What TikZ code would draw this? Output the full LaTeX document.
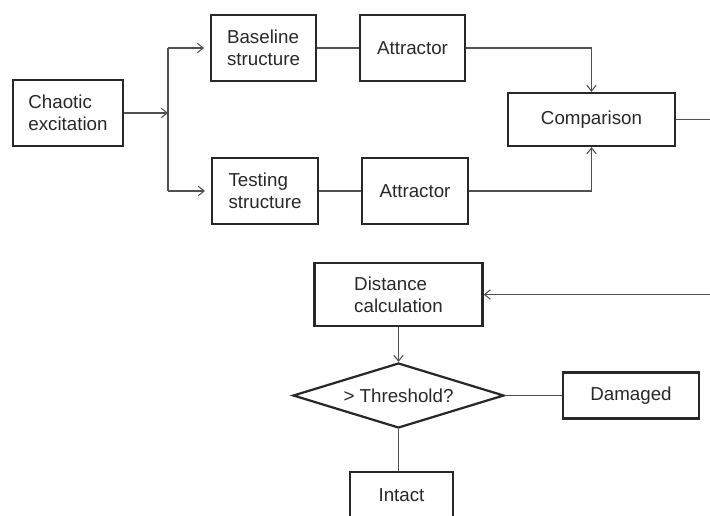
\documentclass[tikz,border=0pt]{standalone}
\usepackage{fontspec}
\setmainfont{Liberation Sans}
\usetikzlibrary{shapes.geometric,arrows.meta}
\definecolor{inkgray}{RGB}{40,40,40}
\definecolor{linegray}{RGB}{80,80,80}

\begin{document}
\begin{tikzpicture}[x=0.03cm,y=-0.03cm,
  box/.style={draw=inkgray,line width=1.9pt,inner sep=0pt,align=left,text=inkgray,
    font=\fontsize{16}{19}\selectfont},
  link/.style={draw=linegray,line width=0.9pt},
  arrow/.style={link,-{Straight Barb[length=5pt,width=8pt]}}]
  \useasboundingbox (0,0) rectangle (710,516);

  % upper part: two branches into the comparison
  \begin{scope}[box/.append style={minimum height=1.98cm}]
  \node[box,minimum width=3.3cm]  (chaos) at (68,113)    {Chaotic\\excitation};
  \node[box,minimum width=3.15cm] (base)  at (263.5,48)  {Baseline\\structure};
  \node[box,minimum width=3.18cm] (test)  at (265,191)   {Testing\\structure};
  \node[box,minimum width=3.15cm] (att1)  at (412.5,48)  {Attractor};
  \node[box,minimum width=3.18cm] (att2)  at (415,191)   {Attractor};
  \end{scope}
  \node[box,minimum width=5.01cm,minimum height=1.59cm] (comp) at (591.5,119.5) {Comparison};

  \coordinate (split) at (168,113);
  \coordinate (edge)  at (716,0);

  \draw[arrow] (chaos.east) -- (split);
  \draw[link]  (split |- base.west) -- (split |- test.west);
  \draw[arrow,shorten >=5pt] (split |- base.west) -- (base.west);
  \draw[arrow,shorten >=5pt] (split |- test.west) -- (test.west);
  \draw[link]  (base) -- (att1);
  \draw[link]  (test) -- (att2);
  \draw[arrow] (att1.east) -| (comp.north);
  \draw[arrow] (att2.east) -| (comp.south);

  % lower part: decision
  \node[box,minimum width=5.04cm,minimum height=1.89cm] (dist) at (398.5,294.5) {Distance\\calculation};
  \node[box,diamond,aspect=3.2,minimum width=6.33cm,minimum height=1.95cm] (thr) at (398.5,395.5) {> Threshold?};
  \node[box,minimum width=4.08cm,minimum height=1.38cm] (dam) at (631,395.5) {Damaged};
  \node[box,minimum width=3.09cm,minimum height=1.38cm] (intact) at (401.5,495) {Intact};

  \draw[arrow] (comp.east) -- (comp.east -| edge) -- (dist.east -| edge) -- (dist.east);
  \draw[arrow] (dist.south) -- (thr.north);
  \draw[link]  (thr.east) -- (dam.west);
  \draw[link]  (thr.south) -- (thr.south |- intact.north);
\end{tikzpicture}
\end{document}
